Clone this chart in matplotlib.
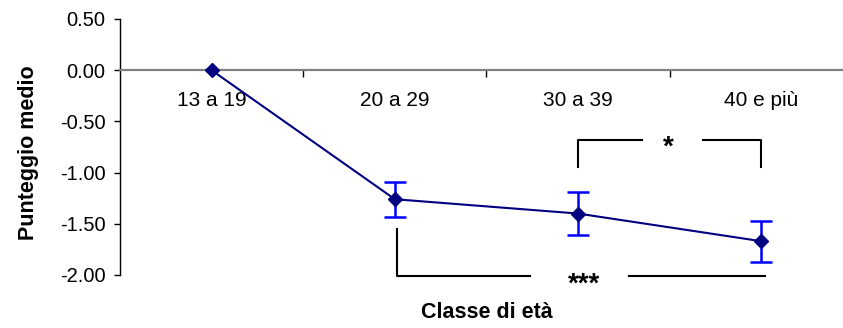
import matplotlib.pyplot as plt
from matplotlib.ticker import FixedLocator, NullFormatter, FixedFormatter

plt.rcParams['font.family'] = ['Liberation Sans', 'DejaVu Sans']

categories = ["13 a 19", "20 a 29", "30 a 39", "40 e più"]
means = [0.00, -1.26, -1.40, -1.67]
errors = [0.00, 0.17, 0.21, 0.20]

# significance brackets: (from category, to category, label)
sig_top = (2, 3, "*")
sig_bottom = (1, 3, "***")

LINE = "#000080"
ERR = "#0000FF"

fig = plt.figure(figsize=(8.43, 3.28), dpi=100)
ax = fig.add_axes([0.1423, 0.1616, 0.8695, 0.7805])

x = list(range(len(categories)))
ax.errorbar(x[1:], means[1:], yerr=errors[1:], fmt="none", ecolor=ERR,
            elinewidth=1.8, capsize=8, capthick=1.8, zorder=2)
ax.plot(x, means, color=LINE, lw=1.5, marker="D", ms=7.5, zorder=3)

ax.set_xlim(-0.5, 3.5)
ax.set_ylim(-2.0, 0.5)
yt = [0.5, 0.0, -0.5, -1.0, -1.5, -2.0]
ax.set_yticks(yt)
ax.set_yticklabels(["%.2f" % v for v in yt])
ax.tick_params(axis="y", direction="out", length=4.5, width=1, labelsize=14.5, pad=6)

for s in ["top", "right"]:
    ax.spines[s].set_visible(False)
ax.spines["bottom"].set_position(("data", 0))
ax.spines["bottom"].set_color("#808080")
ax.spines["bottom"].set_linewidth(1.6)
ax.spines["left"].set_linewidth(1.0)

ax.xaxis.set_major_locator(FixedLocator([0.5, 1.5, 2.5]))
ax.xaxis.set_major_formatter(NullFormatter())
ax.xaxis.set_minor_locator(FixedLocator(x))
ax.xaxis.set_minor_formatter(FixedFormatter(categories))
ax.tick_params(axis="x", which="major", direction="out", length=5, width=1, color="black")
ax.tick_params(axis="x", which="minor", length=0, labelsize=15, pad=15)

ax.set_ylabel("Punteggio medio", fontsize=15.5, fontweight="bold", va="center")
ax.yaxis.set_label_coords(-0.125, 0.477)
ax.set_xlabel("Classe di età", fontsize=15.5, fontweight="bold", va="center")
ax.xaxis.set_label_coords(0.5, -0.148)

# top bracket
a, b, lab = sig_top
ax.plot([a, a, a + 0.35], [-0.95, -0.68, -0.68], color="black", lw=1.5, clip_on=False)
ax.plot([b - 0.32, b, b], [-0.68, -0.68, -0.95], color="black", lw=1.5, clip_on=False)
ax.text((a + b) / 2 - 0.01, -0.82, lab, ha="center", va="baseline", fontsize=20, fontweight="bold")

# bottom bracket
a, b, lab = sig_bottom
ax.plot([a + 0.01, a + 0.01, a + 0.74], [-1.55, -2.01, -2.01], color="black", lw=1.5, clip_on=False)
ax.plot([a + 1.28, b + 0.02], [-2.01, -2.01], color="black", lw=1.5, clip_on=False)
ax.text(a + 1.03, -2.16, lab, ha="center", va="baseline", fontsize=20, fontweight="bold")

fig.savefig("out.png", dpi=100)
